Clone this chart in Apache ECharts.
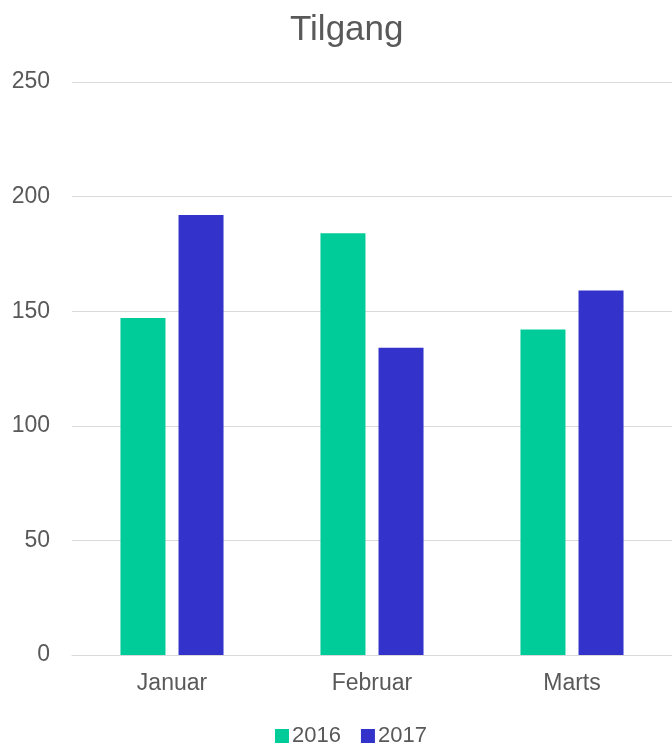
<!DOCTYPE html>
<html>
<head>
<meta charset="utf-8">
<script src="https://cdn.jsdelivr.net/npm/echarts@6/dist/echarts.min.js"></script>
<style>
html, body { margin: 0; padding: 0; background: #fff; }
#chart { width: 672px; height: 744px; }
</style>
</head>
<body>
<div id="chart"></div>
<script>
// data
const months = ['Januar', 'Februar', 'Marts']
const values2016 = [147, 184, 142]
const values2017 = [192, 134, 159]
const yTicks = { min: 0, max: 250, interval: 50 }

const textColor = '#595959'
const font = 'Liberation Sans, Arial, sans-serif'

var chart = echarts.init(document.getElementById('chart'))
chart.setOption({
	animation: false,
	title: {
		text: 'Tilgang',
		left: 285,
		top: 8,
		textStyle: { color: textColor, fontSize: 35, fontWeight: 'normal', fontFamily: font },
	},
	legend: {
		left: 270,
		top: 720,
		itemWidth: 14,
		itemHeight: 14,
		itemGap: 20,
		icon: 'rect',
		textStyle: { color: textColor, fontSize: 22, fontFamily: font, padding: [0, 0, 0, -2] },
		data: ['2016', '2017'],
	},
	grid: { left: 72, right: 0, top: 82, bottom: 89 },
	xAxis: {
		type: 'category',
		data: months,
		axisLine: { lineStyle: { color: '#d9d9d9', width: 1 } },
		axisTick: { show: false },
		axisLabel: { color: textColor, fontSize: 23, fontFamily: font, margin: 17 },
	},
	yAxis: {
		type: 'value',
		min: yTicks.min,
		max: yTicks.max,
		interval: yTicks.interval,
		axisLine: { show: false },
		axisTick: { show: false },
		splitLine: { lineStyle: { color: '#d9d9d9' } },
		axisLabel: { color: textColor, fontSize: 23, fontFamily: font, margin: 22 },
	},
	series: [
		{
			name: '2016',
			type: 'bar',
			data: values2016,
			barWidth: 45,
			barGap: '29%',
			itemStyle: { color: '#00CC99' },
		},
		{
			name: '2017',
			type: 'bar',
			data: values2017,
			barWidth: 45,
			itemStyle: { color: '#3333CC' },
		},
	],
})
</script>
</body>
</html>
